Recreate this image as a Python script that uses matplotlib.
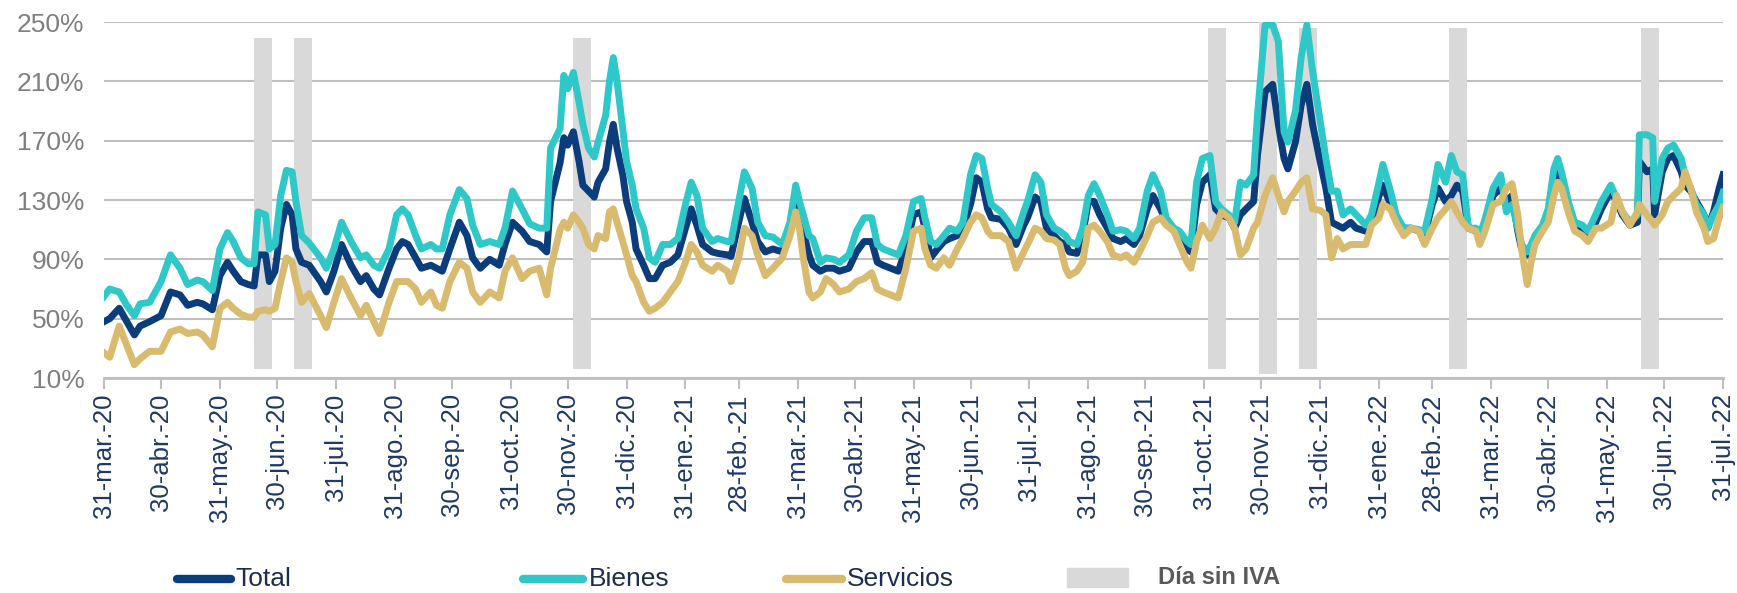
import numpy as np
import pandas as pd
import matplotlib
matplotlib.use('Agg')
import matplotlib.pyplot as plt
from matplotlib.lines import Line2D
from matplotlib.patches import Rectangle

plt.rcParams['font.family'] = ['Liberation Sans', 'DejaVu Sans']

# días desde el 31-mar-2020
dias = [0, 3, 8, 12, 16, 19, 24, 30, 35, 40, 44, 49, 52, 57, 61, 65, 68, 72, 76, 79,
        81, 85, 87, 90, 93, 96, 99, 101, 104, 108, 114, 117, 121,
        125, 130, 135, 138, 142, 145, 150, 154, 157, 160, 164, 167, 172, 175, 178, 182,
        187, 191, 194, 198, 203, 208, 211, 215, 220, 224, 229, 233, 235,
        240, 242, 244, 247, 250, 252, 255, 258, 260, 264, 266, 268, 270, 273, 275, 278,
        280, 284, 287, 290, 294, 298, 302, 306, 309, 312, 315, 320, 323, 328, 330, 334,
        337, 341, 344, 348, 352, 357, 361, 364, 366,
        368, 371, 373, 377, 380, 384, 387, 392, 396, 400, 404, 407, 410, 414, 418, 422,
        426, 430, 432, 435, 438, 442, 445, 449, 452, 456, 459, 462, 465, 467, 472, 476,
        480, 484,
        486, 490, 493, 496, 500, 503, 506, 508, 512, 515, 518, 521, 524, 528, 531, 535,
        538, 542, 545, 549, 552, 556, 559, 563, 566, 570, 572, 575, 578, 582, 585, 588,
        592, 595, 598, 601, 605,
        607, 611, 615, 618, 621, 623, 627, 630, 633, 636, 640, 643, 646, 649, 652, 656,
        659, 664, 667, 671, 673, 677, 680, 684, 688, 692, 695, 699, 702, 706, 709, 712,
        715, 718, 722, 724, 727,
        731, 735, 738, 741, 744, 746, 749, 751, 753, 757, 760, 763, 765, 767, 771, 774,
        778, 781, 785, 788, 793, 796, 799, 803, 807, 808, 812, 815, 816, 820, 823, 826,
        830, 832, 835, 838, 842, 844, 847, 850, 852]

bienes = [65, 70, 68, 59, 52, 60, 61, 75, 93, 84, 73, 76, 75, 69, 97, 108, 102, 91, 87, 87,
          122, 120, 97, 100, 133, 150, 149, 129, 106, 101, 91, 84, 97,
          115, 102, 91, 93, 86, 84, 97, 120, 124, 120, 106, 97, 100, 97, 97, 120,
          137, 131, 113, 100, 102, 100, 111, 136, 124, 114, 111, 111, 165,
          178, 214, 205, 216, 196, 181, 165, 159, 169, 187, 210, 226, 210, 178, 156, 140,
          124, 111, 91, 88, 100, 100, 104, 127, 142, 133, 111, 102, 104, 102, 102, 129,
          149, 138, 115, 106, 105, 100, 115, 140, 129,
          120, 106, 104, 88, 91, 90, 88, 93, 109, 118, 118, 100, 97, 95, 93, 106,
          129, 131, 118, 102, 100, 106, 111, 109, 115, 147, 160, 158, 138, 127, 122, 115,
          106, 122,
          129, 147, 142, 120, 111, 109, 106, 102, 100, 111, 133, 141, 133, 120, 109, 110,
          109, 104, 111, 136, 147, 136, 118, 111, 109, 102, 100, 142, 158, 160, 129, 124,
          120, 115, 142, 140, 147,
          187, 248, 248, 237, 176, 169, 190, 226, 248, 217, 183, 158, 136, 136, 120, 124,
          120, 113, 120, 142, 154, 136, 120, 111, 111, 110, 109, 131, 154, 142, 160, 149,
          147, 111, 111, 106, 118,
          138, 147, 122, 127, 111, 100, 95, 100, 106, 113, 124, 151, 158, 149, 127, 115,
          113, 109, 120, 129, 140, 131, 122, 115, 120, 174, 174, 172, 129, 158, 165, 167,
          158, 147, 138, 127, 120, 111, 120, 127, 135]

total = [48, 50, 57, 48, 39, 45, 48, 52, 68, 66, 59, 61, 60, 56, 79, 88, 82, 75, 73, 72,
         93, 93, 75, 82, 111, 127, 120, 97, 88, 86, 75, 68, 82,
         100, 86, 75, 79, 70, 66, 84, 97, 102, 100, 91, 84, 86, 84, 82, 97,
         115, 106, 91, 84, 90, 86, 100, 115, 109, 102, 100, 95, 129,
         155, 172, 167, 176, 156, 140, 136, 132, 142, 151, 169, 181, 165, 147, 129, 115,
         97, 86, 77, 77, 86, 88, 93, 111, 124, 113, 100, 95, 94, 93, 92, 115,
         131, 115, 102, 95, 97, 95, 111, 129, 120,
         109, 93, 86, 82, 84, 84, 82, 84, 95, 102, 102, 88, 86, 84, 82, 97,
         120, 122, 111, 91, 96, 102, 104, 106, 111, 127, 145, 142, 124, 118, 117, 111,
         100, 113,
         118, 132, 129, 111, 106, 102, 100, 95, 94, 106, 129, 129, 120, 111, 104, 102,
         104, 100, 106, 124, 133, 124, 115, 111, 104, 97, 95, 127, 142, 147, 124, 120,
         118, 111, 120, 124, 129,
         160, 203, 208, 181, 158, 151, 169, 194, 208, 181, 156, 138, 115, 113, 111, 115,
         111, 109, 115, 133, 140, 127, 118, 111, 111, 109, 106, 127, 138, 129, 133, 140,
         136, 111, 109, 105, 114,
         133, 138, 129, 133, 109, 97, 93, 97, 104, 111, 120, 147, 151, 142, 124, 113,
         111, 104, 115, 124, 136, 129, 120, 113, 115, 156, 149, 151, 120, 149, 158, 160,
         149, 140, 136, 129, 120, 111, 122, 138, 147]

servicios = [27, 24, 45, 32, 19, 23, 28, 28, 41, 43, 40, 41, 39, 31, 57, 61, 57, 53, 51, 51,
             55, 56, 55, 57, 75, 91, 88, 75, 61, 67, 52, 44, 61,
             77, 64, 52, 59, 48, 40, 61, 75, 75, 75, 70, 61, 68, 59, 57, 75,
             88, 84, 68, 61, 68, 64, 82, 91, 77, 82, 84, 66, 84,
             110, 115, 111, 120, 115, 111, 100, 97, 106, 104, 122, 124, 115, 102, 93, 79,
             75, 61, 55, 57, 61, 68, 75, 88, 100, 95, 86, 82, 86, 82, 75, 91,
             111, 106, 93, 79, 84, 91, 106, 122, 111,
             91, 68, 64, 68, 77, 73, 68, 70, 75, 77, 81, 70, 68, 66, 64, 84,
             109, 111, 97, 86, 84, 91, 86, 97, 104, 115, 120, 118, 109, 106, 106, 102,
             84, 95,
             100, 111, 109, 104, 103, 100, 84, 79, 82, 88, 111, 113, 109, 102, 93, 91,
             93, 88, 95, 106, 115, 118, 113, 109, 100, 88, 84, 102, 113, 104, 111, 122,
             118, 111, 93, 97, 111,
             115, 133, 145, 133, 122, 129, 136, 142, 145, 124, 123, 120, 91, 104, 97, 100,
             100, 100, 113, 118, 127, 124, 115, 106, 111, 109, 100, 111, 118, 124, 129, 122,
             115, 111, 109, 100, 110,
             127, 129, 138, 141, 120, 97, 73, 88, 100, 109, 115, 133, 142, 138, 120, 109,
             106, 102, 111, 111, 115, 133, 122, 113, 122, 127, 120, 115, 113, 120, 129, 133,
             138, 149, 138, 122, 111, 102, 104, 118, 125]

# Día sin IVA (inicio en días desde 31-mar-2020)
sin_iva_inicio = [79, 100, 247, 581, 608, 629, 708, 809]
sin_iva_bajo = [16, 16, 16, 16, 12.5, 16, 16, 16]
sin_iva_alto = [239, 239, 239, 246, 250, 246, 246, 246]

etiquetas = ['31-mar.-20', '30-abr.-20', '31-may.-20', '30-jun.-20', '31-jul.-20',
             '31-ago.-20', '30-sep.-20', '31-oct.-20', '30-nov.-20', '31-dic.-20',
             '31-ene.-21', '28-feb.-21', '31-mar.-21', '30-abr.-21', '31-may.-21',
             '30-jun.-21', '31-jul.-21', '31-ago.-21', '30-sep.-21', '31-oct.-21',
             '30-nov.-21', '31-dic.-21', '31-ene.-22', '28-feb.-22', '31-mar.-22',
             '30-abr.-22', '31-may.-22', '30-jun.-22', '31-jul.-22']

C_TOTAL = '#0b3c7b'
C_BIENES = '#2fc8c9'
C_SERV = '#d8bb6f'
C_GRIS = '#d9d9d9'

W, H = 1737, 593
inicio = pd.Timestamp('2020-03-31')
x = inicio + pd.to_timedelta(dias, unit='D')

fig = plt.figure(figsize=(W / 100, H / 100), dpi=100)
ax = fig.add_axes([104 / W, (H - 378) / H, 1619 / W, 356 / H])

ax.bar(inicio + pd.to_timedelta(sin_iva_inicio, unit='D'),
       np.array(sin_iva_alto) - np.array(sin_iva_bajo), bottom=sin_iva_bajo,
       width=9.3, align='edge', color=C_GRIS, zorder=2)

ax.plot(x, total, color=C_TOTAL, lw=5, solid_joinstyle='round', zorder=3)
ax.plot(x, bienes, color=C_BIENES, lw=5, solid_joinstyle='round', zorder=4)
ax.plot(x, servicios, color=C_SERV, lw=5, solid_joinstyle='round', zorder=5)

ax.set_xlim(inicio, inicio + pd.Timedelta(days=852))
ax.set_ylim(10, 250)

ticks = pd.date_range(inicio, periods=len(etiquetas), freq='ME')
ax.set_xticks(ticks)
ax.set_xticklabels(etiquetas, rotation=90, fontsize=18.5, color='#1f3864')
yt = list(range(10, 251, 40))
ax.set_yticks(yt)
ax.set_yticklabels([f'{v}%' for v in yt], fontsize=19, color='#7f7f7f')

ax.tick_params(axis='x', length=8, width=1.5, color='#bfbfbf', pad=3)
ax.tick_params(axis='y', length=0, pad=14)
ax.grid(axis='y', color='#bfbfbf', lw=1.5)
ax.set_axisbelow(True)
for s in ['top', 'right', 'left']:
    ax.spines[s].set_visible(False)
ax.spines['bottom'].set_color('#bfbfbf')
ax.spines['bottom'].set_linewidth(2)

# leyenda
ly = (H - 579) / H
for x0, x1, tx, col, lab in [(177, 231, 235, C_TOTAL, 'Total'),
                             (523, 583, 589, C_BIENES, 'Bienes'),
                             (786, 842, 847, C_SERV, 'Servicios')]:
    fig.add_artist(Line2D([x0 / W, x1 / W], [ly, ly], transform=fig.transFigure,
                          color=col, lw=6, solid_capstyle='round'))
    fig.text(tx / W, ly, lab, va='center', ha='left', fontsize=19, color='#1f2d4d')
fig.add_artist(Rectangle((1067 / W, (H - 587) / H), 61 / W, 19 / H,
                         transform=fig.transFigure, color=C_GRIS))
fig.text(1158 / W, (H - 577) / H, 'Día sin IVA', va='center', ha='left',
         fontsize=17, fontweight='bold', color='#595959')

fig.savefig('out.png', dpi=100)
